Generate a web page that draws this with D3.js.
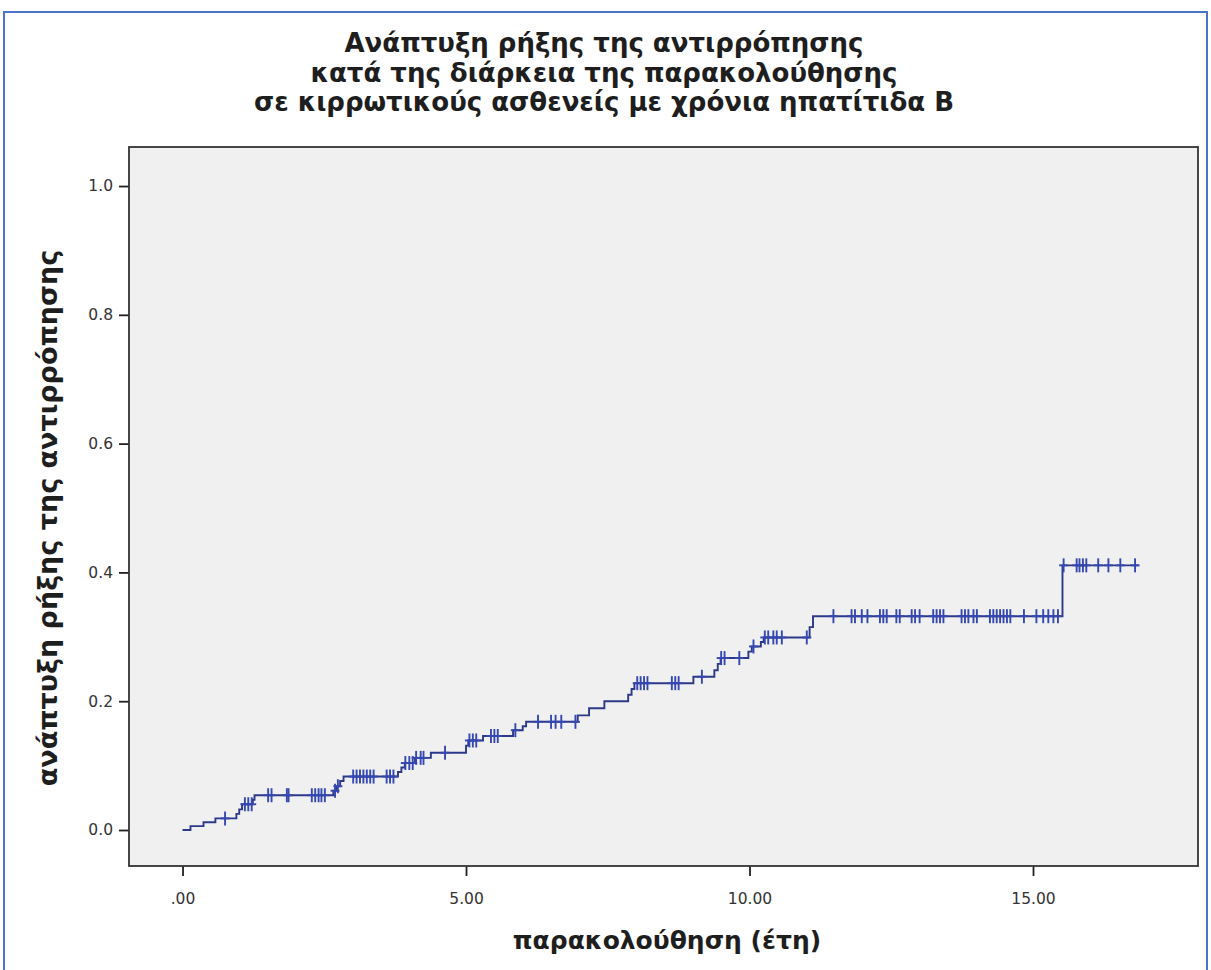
<!DOCTYPE html>
<html>
<head>
<meta charset="utf-8">
<script src="https://cdn.jsdelivr.net/npm/d3@7"></script>
<style>
  html, body { margin: 0; padding: 0; background: #ffffff; }
  svg { display: block; }
</style>
</head>
<body>
<svg id="chart" width="1211" height="970"></svg>
<script>
// Cumulative incidence of decompensation during follow-up (Kaplan–Meier, 1 − S(t))
const titleLines = [
  "Ανάπτυξη ρήξης της αντιρρόπησης",
  "κατά της διάρκεια της παρακολούθησης",
  "σε κιρρωτικούς ασθενείς με χρόνια ηπατίτιδα Β"
];
const yLabel = "ανάπτυξη ρήξης της αντιρρόπησης";
const xLabel = "παρακολούθηση (έτη)";

const xTicks = [0, 5, 10, 15];
const xTickLabels = [".00", "5.00", "10.00", "15.00"];
const yTicks = [0, 0.2, 0.4, 0.6, 0.8, 1.0];
const yTickLabels = ["0.0", "0.2", "0.4", "0.6", "0.8", "1.0"];

// event times (years) and the cumulative level reached at each event
const eventTimes = [
  0, 0.14, 0.37, 0.58, 0.95, 1.00, 1.05, 1.24, 1.27,
  2.66, 2.72, 2.78, 2.84, 3.80, 3.86, 3.92, 4.10, 4.38,
  5.00, 5.04, 5.30, 5.83, 6.00, 6.06, 6.97, 7.17, 7.44,
  7.86, 7.92, 7.97, 9.01, 9.38, 9.44, 9.49, 9.98, 10.04,
  10.20, 10.25, 11.06, 11.12, 15.52
];
const eventLevels = [
  0, 0.006, 0.012, 0.018, 0.025, 0.032, 0.040, 0.047, 0.054,
  0.061, 0.068, 0.076, 0.083, 0.090, 0.097, 0.104, 0.112, 0.120,
  0.131, 0.139, 0.146, 0.155, 0.161, 0.168, 0.178, 0.189, 0.200,
  0.210, 0.219, 0.228, 0.238, 0.248, 0.258, 0.267, 0.277, 0.285,
  0.292, 0.299, 0.315, 0.332, 0.411
];
const lastFollowUp = 16.86;

// censored observations (years)
const censorTimes = [
  0.75, 1.10, 1.16, 1.22,
  1.51, 1.57, 1.84, 1.87, 2.28, 2.34, 2.40, 2.45, 2.51, 2.69, 2.74,
  3.01, 3.07, 3.13, 3.19, 3.25, 3.31, 3.37, 3.60, 3.66, 3.72,
  3.93, 4.00, 4.06, 4.12, 4.20, 4.25, 4.63,
  5.06, 5.12, 5.18, 5.44, 5.50, 5.56, 5.87,
  6.27, 6.50, 6.58, 6.68, 6.93,
  8.02, 8.08, 8.14, 8.20, 8.63, 8.69, 8.75, 9.16, 9.50, 9.56, 9.82, 10.07,
  10.27, 10.33, 10.42, 10.48, 10.57, 11.01,
  11.48, 11.80, 11.86, 11.98, 12.08, 12.30, 12.36, 12.42, 12.59, 12.65,
  12.86, 12.92, 13.00, 13.24, 13.30, 13.36, 13.42, 13.74, 13.80, 13.86,
  13.95, 14.01, 14.24, 14.30, 14.36, 14.42, 14.48, 14.54, 14.60, 14.84,
  15.06, 15.18, 15.27, 15.36, 15.44,
  15.54, 15.77, 15.82, 15.88, 15.94, 16.15, 16.33, 16.54, 16.80
];

const svg = d3.select("#chart");
const W = 1211, H = 970;
const plot = { left: 129, right: 1198, top: 147, bottom: 866 };
const labelFont = "'DejaVu Sans', sans-serif";

// outer page frame
svg.append("rect")
  .attr("x", 4).attr("y", 12)
  .attr("width", W - 8).attr("height", H + 10)
  .attr("fill", "none").attr("stroke", "#4a74c6").attr("stroke-width", 2);

const x = d3.scaleLinear().domain([-0.944, 17.91]).range([plot.left, plot.right]);
const y = d3.scaleLinear().domain([-0.0559, 1.0606]).range([plot.bottom, plot.top]);

// plot background
svg.append("rect")
  .attr("x", plot.left).attr("y", plot.top)
  .attr("width", plot.right - plot.left).attr("height", plot.bottom - plot.top)
  .attr("fill", "#f0f0f0");

// title, three centred lines
titleLines.forEach((t, i) => {
  svg.append("text")
    .attr("x", 604).attr("y", 52 + i * 29.5)
    .attr("text-anchor", "middle")
    .attr("font-family", labelFont)
    .attr("font-weight", 700)
    .attr("font-size", 26)
    .attr("fill", "#1e1e1e")
    .text(t);
});

// axes
const xAxis = d3.axisBottom(x).tickValues(xTicks)
  .tickFormat((d, i) => xTickLabels[i]).tickSize(10).tickPadding(17);
const yAxis = d3.axisLeft(y).tickValues(yTicks)
  .tickFormat((d, i) => yTickLabels[i]).tickSize(10).tickPadding(6);

const gx = svg.append("g").attr("transform", `translate(0,${plot.bottom})`).call(xAxis);
const gy = svg.append("g").attr("transform", `translate(${plot.left},0)`).call(yAxis);
[gx, gy].forEach(g => {
  g.select(".domain").remove();
  g.selectAll(".tick line").attr("stroke", "#222").attr("stroke-width", 1.8);
  g.selectAll(".tick text")
    .attr("font-family", labelFont)
    .attr("font-size", 15.5)
    .attr("fill", "#333");
});

// plot frame
svg.append("rect")
  .attr("x", plot.left).attr("y", plot.top)
  .attr("width", plot.right - plot.left).attr("height", plot.bottom - plot.top)
  .attr("fill", "none").attr("stroke", "#333").attr("stroke-width", 1.8);

// axis titles
svg.append("text")
  .attr("x", 667).attr("y", 949)
  .attr("text-anchor", "middle")
  .attr("font-family", labelFont)
  .attr("font-weight", 700).attr("font-size", 25).attr("fill", "#1e1e1e")
  .text(xLabel);

svg.append("text")
  .attr("transform", "translate(57,518) rotate(-90)")
  .attr("text-anchor", "middle")
  .attr("font-family", labelFont)
  .attr("font-weight", 700).attr("font-size", 27).attr("fill", "#1e1e1e")
  .text(yLabel);

// step curve
const pts = eventTimes.map((t, i) => [t, eventLevels[i]]);
pts.push([lastFollowUp, eventLevels[eventLevels.length - 1]]);

const step = d3.line()
  .x(d => x(d[0])).y(d => y(d[1]))
  .curve(d3.curveStepAfter);

svg.append("path")
  .datum(pts)
  .attr("d", step)
  .attr("fill", "none")
  .attr("stroke", "#2c3888")
  .attr("stroke-width", 1.9);

// level of the curve at time t
const bis = d3.bisector(d => d).right;
const levelAt = t => eventLevels[Math.max(0, bis(eventTimes, t) - 1)];

// censor marks
const cg = svg.append("g")
  .attr("stroke", "#3547b0").attr("stroke-width", 1.9);
censorTimes.forEach(t => {
  const cx = x(t), cy = y(levelAt(t));
  cg.append("line").attr("x1", cx).attr("x2", cx).attr("y1", cy - 7).attr("y2", cy + 7);
  cg.append("line").attr("x1", cx - 4.5).attr("x2", cx + 4.5).attr("y1", cy).attr("y2", cy);
});
</script>
</body>
</html>
